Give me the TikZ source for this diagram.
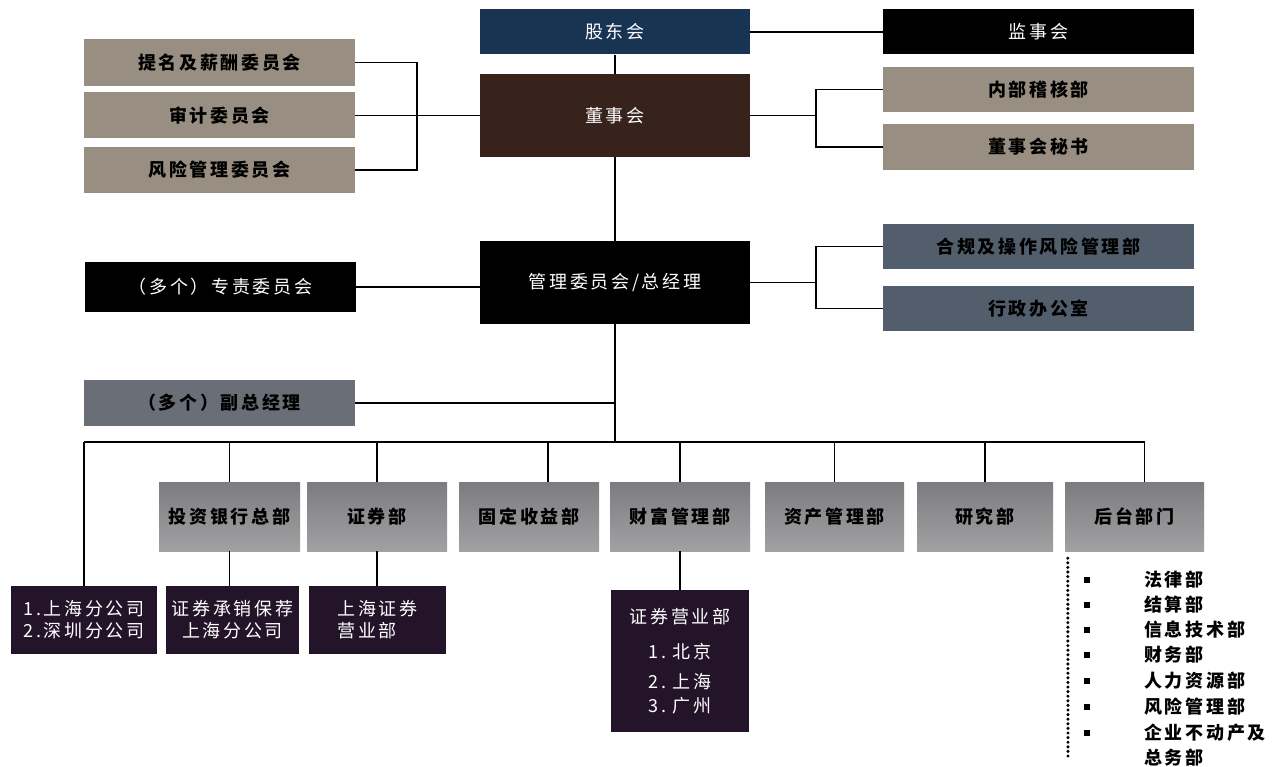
\documentclass[tikz,border=0pt]{standalone}
\usepackage{fontspec}
\setmainfont{Noto Sans CJK SC}
\newfontfamily\cjkw[LetterSpace=15]{Noto Sans CJK SC}
\usetikzlibrary{calc}
\definecolor{taupe}{RGB}{152,142,130}
\definecolor{navy}{RGB}{24,52,82}
\definecolor{brownbox}{RGB}{56,34,28}
\definecolor{slate}{RGB}{82,94,108}
\definecolor{greybox}{RGB}{106,110,118}
\definecolor{deep}{RGB}{36,20,42}
\definecolor{rowtop}{RGB}{124,124,128}
\definecolor{rowbot}{RGB}{162,160,162}
\tikzset{
  box/.style={rectangle, inner sep=0pt, anchor=center, font=\cjkw\fontsize{18}{22}\selectfont},
  darkbox/.style={box, text=white},
  lightbox/.style={box, text=black, font=\cjkw\bfseries\fontsize{18}{22}\selectfont},
  rowbox/.style={lightbox, top color=rowtop, bottom color=rowbot, minimum height=69pt},
  deepbox/.style={darkbox, fill=deep, minimum height=68pt},
  wire/.style={draw=black, line width=1.6pt},
  dotline/.style={draw=black, line width=3.4pt, line cap=round, dash pattern=on 0pt off 4.6pt},
  bullet/.style={rectangle, fill=black, inner sep=0pt, minimum size=5.5pt},
  listtxt/.style={anchor=west, inner sep=0pt, font=\cjkw\bfseries\fontsize{18}{21}\selectfont}
}
\begin{document}
\begin{tikzpicture}[x=1pt,y=-1pt]
\useasboundingbox (0,0) rectangle (1284,767);
\fill[white] (0,0) rectangle (1284,767);

% top
\node[darkbox, fill=navy, minimum width=270pt, minimum height=45pt] (gdh) at (615,32) {股东会};
\node[darkbox, fill=black, minimum width=311pt, minimum height=45pt] (jsh) at (1038.5,32) {监事会};
\node[darkbox, fill=brownbox, minimum width=270pt, minimum height=83pt] (dsh) at (615,115.5) {董事会};
\node[lightbox, fill=taupe, minimum width=271pt, minimum height=47pt] (tm) at (219.5,62.5) {提名及薪酬委员会};
\node[lightbox, fill=taupe, minimum width=271pt, minimum height=46pt] (sj) at (219.5,115.5) {审计委员会};
\node[lightbox, fill=taupe, minimum width=271pt, minimum height=46pt] (fx) at (219.5,170) {风险管理委员会};
\node[lightbox, fill=taupe, minimum width=311pt, minimum height=45pt] (nb) at (1038.5,89.5) {内部稽核部};
\node[lightbox, fill=taupe, minimum width=311pt, minimum height=46pt] (ms) at (1038.5,147) {董事会秘书};

% middle
\node[darkbox, fill=black, minimum width=270pt, minimum height=83pt] (gl) at (615,282.5) {管理委员会/总经理};
\node[darkbox, fill=black, minimum width=271pt, minimum height=50pt] (zz) at (220.5,287) {（多个）专责委员会};
\node[lightbox, fill=slate, minimum width=311pt, minimum height=45pt] (hg) at (1038.5,246.5) {合规及操作风险管理部};
\node[lightbox, fill=slate, minimum width=311pt, minimum height=45pt] (xz) at (1038.5,308.5) {行政办公室};
\node[lightbox, fill=greybox, minimum width=271pt, minimum height=46pt] (fz) at (219.5,403) {（多个）副总经理};

% second row
\node[rowbox, minimum width=141pt] (tz) at (229.5,516.5) {投资银行总部};
\node[rowbox, minimum width=140pt] (zq) at (377,516.5) {证券部};
\node[rowbox, minimum width=140pt] (gs) at (529,516.5) {固定收益部};
\node[rowbox, minimum width=140pt] (cf) at (680,516.5) {财富管理部};
\node[rowbox, minimum width=139pt] (zc) at (834.5,516.5) {资产管理部};
\node[rowbox, minimum width=136pt] (yj) at (985,516.5) {研究部};
\node[rowbox, minimum width=139pt] (ht) at (1134.5,516.5) {后台部门};

% third row
\node[deepbox, minimum width=146pt, align=left] (fgs) at (84,620) {1.上海分公司\\2.深圳分公司};
\node[deepbox, minimum width=133pt, align=center] (cxb) at (232.5,620) {证券承销保荐\\上海分公司};
\node[deepbox, minimum width=137pt, align=left] (shz) at (377.5,620) {上海证券\\营业部};
\node[darkbox, fill=deep, minimum width=138pt, minimum height=142pt, align=center] (yyb) at (680,661)
  {证券营业部\\[13pt]1.~北京\\[8pt]2.~上海\\[2pt]3.~广州};

% connectors
\coordinate (lbx) at (417,0);
\coordinate (rbx) at (816,0);
\coordinate (bus) at (615,442);
\draw[wire] (gdh.east) -- (jsh.west);
\draw[wire] (gdh.south) -- (dsh.north);
\draw[wire] (tm.east) -| (lbx |- fx.east) -- (fx.east);
\draw[wire] (sj.east) -- (dsh.west |- sj.east);
\draw[wire] (nb.west) -| (rbx |- ms.west) -- (ms.west);
\draw[wire] (dsh.east) -- (rbx |- dsh.east);
\draw[wire] (dsh.south) -- (gl.north);
\draw[wire] (zz.east) -- (gl.west |- zz.east);
\draw[wire] (hg.west) -| (rbx |- xz.west) -- (xz.west);
\draw[wire] (gl.east) -- (rbx |- gl.east);
\draw[wire] (gl.south) -- (bus);
\draw[wire] (fz.east) -- (bus |- fz.east);
\draw[wire] (fgs.north |- bus) -- ([xshift=10pt]ht.north |- bus);
\draw[wire] (fgs.north |- bus) -- (fgs.north);
\foreach \n in {tz,zq,cf,zc,yj} \draw[wire] (\n.north |- bus) -- (\n.north);
\draw[wire] ([xshift=19pt]gs.north |- bus) -- ([xshift=19pt]gs.north);
\draw[wire] ([xshift=10pt]ht.north |- bus) -- ([xshift=10pt]ht.north);
\draw[wire] (tz.south) -- (tz.south |- cxb.north);
\draw[wire] (zq.south) -- (zq.south |- shz.north);
\draw[wire] (cf.south) -- (yyb.north);

% back office list
\coordinate (dotend) at (1068,760);
\draw[dotline] ([xshift=3pt,yshift=-7pt]ht.south west) -- (dotend);
\node[bullet] (b1) at (1087,580) {};
\node[bullet] (b2) at (1087,605) {};
\node[bullet] (b3) at (1087,630) {};
\node[bullet] (b4) at (1087,655) {};
\node[bullet] (b5) at (1087,681) {};
\node[bullet] (b6) at (1087,707) {};
\node[bullet] (b7) at (1087,733) {};
\node[listtxt] (l1) at (1144,580) {法律部};
\node[listtxt] (l2) at (1144,605) {结算部};
\node[listtxt] (l3) at (1144,630) {信息技术部};
\node[listtxt] (l4) at (1144,655) {财务部};
\node[listtxt] (l5) at (1144,681) {人力资源部};
\node[listtxt] (l6) at (1144,707) {风险管理部};
\node[listtxt] (l7) at (1144,733) {企业不动产及};
\node[listtxt] (l8) at (1144,758) {总务部};
\end{tikzpicture}
\end{document}
